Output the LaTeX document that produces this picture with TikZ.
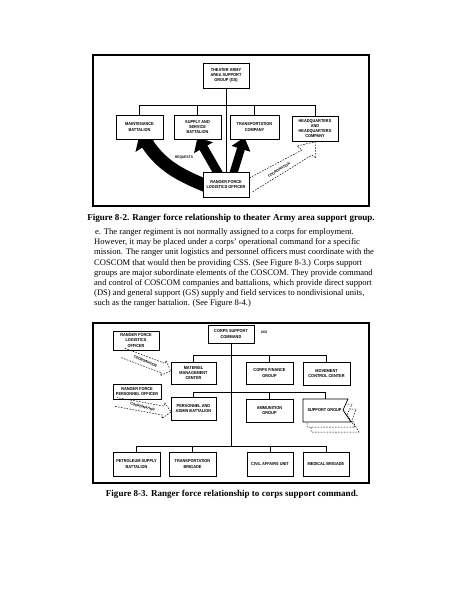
\documentclass[tikz,border=0pt]{standalone}
\usepackage{fontspec}
\setmainfont{Liberation Serif}
\newfontfamily\boxfont[FakeStretch=0.9]{Liberation Sans}
\usetikzlibrary{arrows.meta,backgrounds}
\newcommand\harrow[4]{\draw[coordline] (0,#2) -- ({#1-#4},#2) -- ({#1-#4},#3) -- (#1,0) -- ({#1-#4},-#3) -- ({#1-#4},-#2) -- (0,-#2);}
\begin{document}
\begin{tikzpicture}[x=1pt,y=-1pt,
  org/.style={draw, line width=0.7pt, fill=white, inner sep=0pt, align=center, font=\boxfont\bfseries\fontsize{4.3}{5.1}\selectfont},
  frame/.style={draw, line width=1.6pt},
  conn/.style={line width=0.7pt},
  coordline/.style={line width=0.5pt, dash pattern=on 1.6pt off 1.3pt},
  lbl/.style={font=\boxfont\bfseries\fontsize{3.6}{4}\selectfont, inner sep=0pt},
  para/.style={anchor=base west, inner sep=0pt, font=\fontsize{8.55}{10.2}\selectfont},
  figcap/.style={anchor=base, inner sep=0pt, font=\bfseries\fontsize{9.05}{10.2}\selectfont}
]
\useasboundingbox (0,0) rectangle (463,599);

% ---------- Figure 8-2 ----------
\draw[frame] (93,55) rectangle (369,206);
\node[org, minimum width=46, minimum height=25] (th) at (226,75.5) {THEATER ARMY\\AREA SUPPORT\\GROUP (GS)};
\node[org, minimum width=47, minimum height=24] (mb) at (139.5,127) {MAINTENANCE\\BATTALION};
\node[org, minimum width=47, minimum height=24] (ss) at (197.5,127) {SUPPLY AND\\SERVICE\\BATTALION};
\node[org, minimum width=49, minimum height=24] (tc) at (254.5,127) {TRANSPORTATION\\COMPANY};
\node[org, minimum width=46, minimum height=25] (hq) at (315,128.5) {HEADQUARTERS\\AND\\HEADQUARTERS\\COMPANY};
\node[org, minimum width=46, minimum height=25] (rf) at (226,184.5) {RANGER FORCE\\LOGISTICS OFFICER};
\coordinate (bar1) at (226,105);
\begin{pgfonlayer}{background}
\draw[conn] (th.south) -- (rf.north);
\draw[conn] (mb.north) -- (mb.north |- bar1) -- (hq.north |- bar1) -- (hq.north);
\draw[conn] (ss.north) -- (ss.north |- bar1);
\draw[conn] (tc.north) -- (tc.north |- bar1);
\draw[line width=9pt, -{Triangle[length=12pt,width=21pt]}] ([xshift=-7pt,yshift=-3pt]rf.north) -- ([yshift=2pt]ss.south);
\draw[line width=8pt, -{Triangle[length=12pt,width=19pt]}] ([xshift=7pt,yshift=-3pt]rf.north) -- ([xshift=-10pt,yshift=2pt]tc.south);
\draw[line width=13pt, -{Triangle[length=14pt,width=28pt]}] ([xshift=5pt,yshift=-2pt]rf.west) .. controls (185,177) and (163,168) .. ([xshift=0.5pt,yshift=7pt]mb.south);
\end{pgfonlayer}
\node[lbl] (req) at (184,158) {REQUESTS};
\draw[coordline] ([yshift=6.5pt]rf.east) -- (302,150) -- (297,146) -- ([yshift=-0.5pt]hq.south) -- (316,158) -- (312,155) -- ([xshift=3pt,yshift=-7.5pt]rf.east);
\node[lbl, rotate=31] (co1) at (279,170) {COORDINATION};

\node[figcap] (cap1) at (231,220) {Figure 8-2. Ranger force relationship to theater Army area support group.};

% ---------- paragraph ----------
\node[para] (p1) at (95,234.5) {e. The ranger regiment is not normally assigned to a corps for employment.};
\node[para] (p2) at (94,244.7) {However, it may be placed under a corps' operational command for a specific};
\node[para] (p3) at (94,254.9) {mission. The ranger unit logistics and personnel officers must coordinate with the};
\node[para] (p4) at (94,265.1) {COSCOM that would then be providing CSS. (See Figure 8-3.) Corps support};
\node[para] (p5) at (94,275.3) {groups are major subordinate elements of the COSCOM. They provide command};
\node[para] (p6) at (94,285.5) {and control of COSCOM companies and battalions, which provide direct support};
\node[para] (p7) at (94,295.7) {(DS) and general support (GS) supply and field services to nondivisional units,};
\node[para] (p8) at (94,305.9) {such as the ranger battalion. (See Figure 8-4.)};

% ---------- Figure 8-3 ----------
\draw[frame] (93,323) rectangle (369,483);
\node[org, minimum width=46, minimum height=18] (csc) at (231,334) {CORPS SUPPORT\\COMMAND};
\node[lbl] (xxx) at (264,332) {XXX};
\node[org, minimum width=46, minimum height=19] (rlo) at (136,340.5) {RANGER FORCE\\LOGISTICS\\OFFICER};
\node[org, line width=1pt, minimum width=48, minimum height=15] (rpo) at (137,391.5) {RANGER FORCE\\PERSONNEL OFFICER};
\node[org, minimum width=45, minimum height=22] (mmc) at (193.5,373) {MATERIEL\\MANAGEMENT\\CENTER};
\node[org, minimum width=47, minimum height=22] (cfg) at (269.5,373) {CORPS FINANCE\\GROUP};
\node[org, minimum width=47, minimum height=23] (mcc) at (326.5,373.5) {MOVEMENT\\CONTROL CENTER};
\node[org, minimum width=45, minimum height=23] (pab) at (193.5,408.5) {PERSONNEL AND\\ADMIN BATTALION};
\node[org, minimum width=47, minimum height=23] (amg) at (269.5,410.5) {AMMUNITION\\GROUP};
% support group stack
\filldraw[fill=white, coordline] (311,409) -- (356,409) -- (352,420) -- (359,432) -- (311,432) -- cycle;
\filldraw[fill=white, coordline] (307,404) -- (352,404) -- (347,415) -- (355,427) -- (307,427) -- cycle;
\filldraw[fill=white, line width=0.7pt] (303,399) -- (348,399) -- (343,410) -- (351,422) -- (303,422) -- cycle;
\node[org, draw=none, fill=none, minimum width=45, minimum height=23] (spg) at (324.5,410.5) {SUPPORT GROUP};
\node[org, minimum width=47, minimum height=24] (psb) at (136.5,464) {PETROLEUM SUPPLY\\BATTALION};
\node[org, minimum width=47, minimum height=24] (trb) at (192.5,464) {TRANSPORTATION\\BRIGADE};
\node[org, minimum width=46, minimum height=24] (cau) at (270,464) {CIVIL AFFAIRS UNIT};
\node[org, minimum width=46, minimum height=24] (mdb) at (326,464) {MEDICAL BRIGADE};
\coordinate (r1) at (231,355);
\coordinate (r2) at (231,392);
\coordinate (r3) at (231,446);
\begin{pgfonlayer}{background}
\draw[conn] (csc.south) -- (r3);
\draw[conn] (mmc.north) -- (mmc.north |- r1) -- (mcc.north |- r1) -- (mcc.north);
\draw[conn] (cfg.north) -- (cfg.north |- r1);
\draw[conn] (pab.north) -- (pab.north |- r2) -- ([xshift=1pt]spg.north |- r2) -- ([xshift=1pt]spg.north);
\draw[conn] (amg.north) -- (amg.north |- r2);
\draw[conn] (psb.north) -- (psb.north |- r3) -- (mdb.north |- r3) -- (mdb.north);
\draw[conn] (trb.north) -- (trb.north |- r3);
\draw[conn] (cau.north) -- (cau.north |- r3);
\end{pgfonlayer}
\coordinate (c2) at (123,353);
\begin{scope}[shift={(c2)}, rotate=-20.6]
  \harrow{51}{5}{8}{8}
  \node[lbl, rotate=-25] (co2) at (24,0) {COORDINATION};
\end{scope}
\coordinate (c3) at (116,402);
\begin{scope}[shift={(c3)}, rotate=-10.3]
  \harrow{56}{4.5}{8}{8}
  \node[lbl, rotate=-15] (co3) at (27,0) {COORDINATION};
\end{scope}

\node[figcap] (cap2) at (232,496) {Figure 8-3. Ranger force relationship to corps support command.};
\end{tikzpicture}
\end{document}
